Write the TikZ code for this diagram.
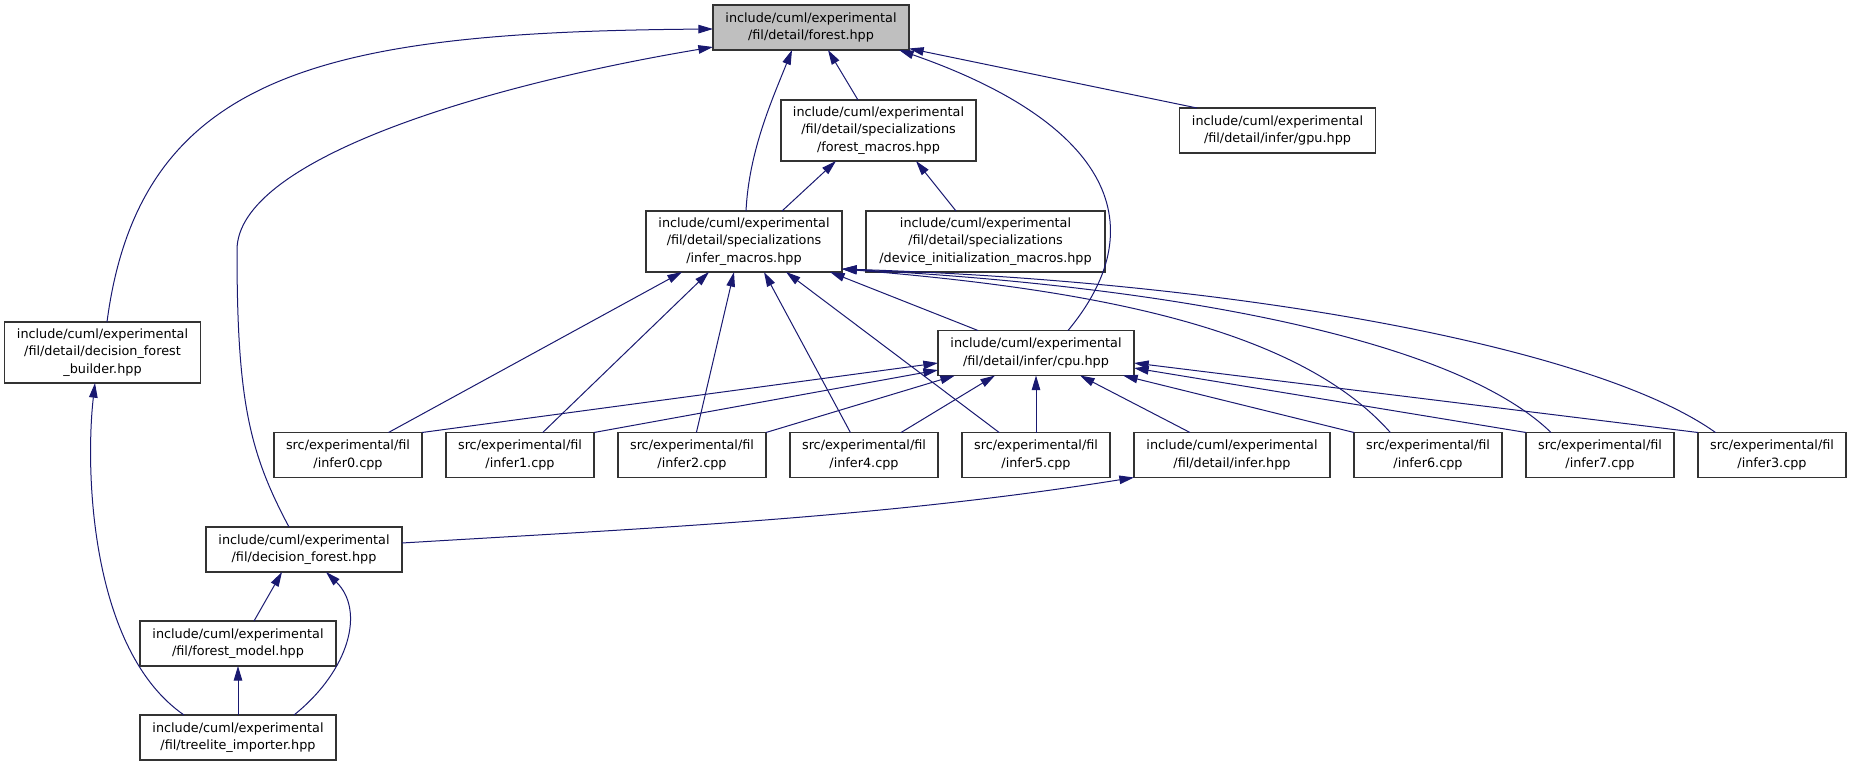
\documentclass[tikz,border=0pt]{standalone}
\usepackage{fontspec}
\setmainfont{DejaVu Sans}
\usetikzlibrary{arrows.meta,calc}
\definecolor{edgeblue}{RGB}{25,25,112}
\definecolor{boxgray}{RGB}{191,191,191}
\begin{document}
\begin{tikzpicture}[x=0.75pt, y=-0.75pt,
    filebox/.style={draw=black!80, line width=0.8pt, inner sep=0pt, outer sep=0pt, align=center,
        font=\fontsize{9.6}{12.9}\selectfont, minimum width=147pt, minimum height=33.75pt},
    tallbox/.style={filebox, minimum height=45.75pt},
    srcbox/.style={filebox, minimum width=111pt},
    dep/.style={edgeblue, line width=0.75pt, -{Triangle[length=11pt,width=6.4pt]}}]
    \useasboundingbox (0,0) rectangle (1851,766);
    % Headers
    \node[filebox, fill=boxgray] (forest) at (811,27.5) {include/cuml/experimental\\/fil/detail/forest.hpp};
    \node[tallbox, minimum width=146.25pt] (fmacros) at (878.5,130.5) {include/cuml/experimental\\/fil/detail/specializations\\/forest\_macros.hpp};
    \node[filebox] (gpu) at (1277.5,130.5) {include/cuml/experimental\\/fil/detail/infer/gpu.hpp};
    \node[tallbox] (imacros) at (744,241.5) {include/cuml/experimental\\/fil/detail/specializations\\/infer\_macros.hpp};
    \node[tallbox, minimum width=179.25pt] (devinit) at (985.5,241.5) {include/cuml/experimental\\/fil/detail/specializations\\/device\_initialization\_macros.hpp};
    \node[tallbox] (builder) at (102.5,352.5) {include/cuml/experimental\\/fil/detail/decision\_forest\\\_builder.hpp};
    \node[filebox] (cpu) at (1036,353) {include/cuml/experimental\\/fil/detail/infer/cpu.hpp};
    \node[filebox] (inferhpp) at (1232,455) {include/cuml/experimental\\/fil/detail/infer.hpp};
    \node[filebox] (dforest) at (304,549.5) {include/cuml/experimental\\/fil/decision\_forest.hpp};
    \node[filebox] (fmodel) at (238,643.5) {include/cuml/experimental\\/fil/forest\_model.hpp};
    \node[filebox] (treelite) at (238,737.5) {include/cuml/experimental\\/fil/treelite\_importer.hpp};
    % Sources
    \foreach \n/\cx in {0/348,1/520,2/692,4/864,5/1036,6/1428,7/1600,3/1772} {
        \node[srcbox] (infer\n) at (\cx,455) {src/experimental/fil\\/infer\n.cpp};
    }
    % Into forest.hpp
    \draw[dep] ($(builder.north)+(4.5,0)$) .. controls +(33,-252) and +(-383,3) .. ($(forest.west)+(0,1.5)$);
    \draw[dep] ($(dforest.north)+(-15,0)$) .. controls +(-40,-75) and +(0,150) .. (237,250)
        .. controls +(0,-90) and +(-233,39) .. ($(forest.west)+(0,19.5)$);
    \draw[dep] ($(imacros.north west)+(100,0)$) .. controls +(3,-60) and +(-20,50) .. ($(forest.south west)+(79,0)$);
    \draw[dep] ($(fmacros.north west)+(77,0)$) -- ($(forest.south west)+(115,0)$);
    \draw[dep] ($(cpu.north west)+(130,0)$) .. controls +(92,-111) and +(201,70) .. ($(forest.south west)+(186,0)$);
    \draw[dep] ($(gpu.north west)+(17.5,0)$) -- ($(forest.south east)+(0,-1.5)$);
    % Into forest_macros.hpp
    \draw[dep] ($(imacros.north west)+(136,0)$) -- ($(fmacros.south west)+(55,0)$);
    \draw[dep] ($(devinit.north west)+(90,0)$) -- ($(fmacros.south west)+(135,0)$);
    % Into infer_macros.hpp
    \foreach \n/\a/\b in {0/114.5/36,1/96.7/63,2/78.4/88,4/60.4/118,5/37.2/140} {
        \draw[dep] ($(infer\n.north west)+(\a,0)$) -- ($(imacros.south west)+(\b,0)$);
    }
    \draw[dep] ($(cpu.north west)+(40,0)$) -- ($(imacros.south west)+(184,0)$);
    \draw[dep] ($(infer6.north west)+(36.3,0)$) .. controls +(-91,-103) and +(258,21) .. ($(imacros.south east)+(0,-3)$);
    \draw[dep] ($(infer7.north west)+(25,0)$) .. controls +(-101,-98) and +(308,16) .. ($(imacros.south east)+(0,-3)$);
    \draw[dep] ($(infer3.north west)+(17.5,0)$) .. controls +(-116,-83) and +(408,13) .. ($(imacros.south east)+(0,-3)$);
    % Into cpu.hpp
    \draw[dep] (infer0.north east) -- ($(cpu.west)+(0,10)$);
    \draw[dep] (infer1.north east) -- ($(cpu.west)+(0,17)$);
    \draw[dep] (infer2.north east) -- ($(cpu.south west)+(17,0)$);
    \draw[dep] ($(infer4.north west)+(111,0)$) -- ($(cpu.south west)+(57,0)$);
    \draw[dep] (infer5.north) -- (cpu.south);
    \draw[dep] ($(inferhpp.north west)+(56,0)$) -- ($(cpu.south west)+(142,0)$);
    \draw[dep] (infer6.north west) -- ($(cpu.south west)+(185,0)$);
    \draw[dep] (infer7.north west) -- ($(cpu.east)+(0,15)$);
    \draw[dep] (infer3.north west) -- ($(cpu.east)+(0,10)$);
    % Into infer.hpp
    \draw[dep] ($(dforest.east)+(0,-6.5)$) .. controls +(250,-15) and +(-250,40) .. (inferhpp.south west);
    % Lower chain
    \draw[dep] ($(treelite.north)+(-54,0)$) .. controls +(-94,-65) and +(-10,87) .. ($(builder.south)+(-7.5,0)$);
    \draw[dep] ($(fmodel.north)+(16,0)$) -- ($(dforest.south)+(-22,0)$);
    \draw[dep] ($(treelite.north)+(56,0)$) .. controls +(56,-45) and +(39,38) .. ($(dforest.south)+(22,0)$);
    \draw[dep] (treelite.north) -- (fmodel.south);
\end{tikzpicture}
\end{document}
